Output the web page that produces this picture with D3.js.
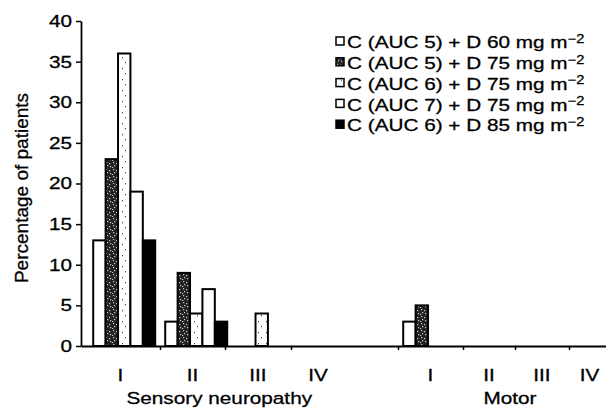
<!DOCTYPE html>
<html>
<head>
<meta charset="utf-8">
<script src="https://cdn.jsdelivr.net/npm/d3@7"></script>
<style>
  body { margin: 0; background: #fff; }
  svg { display: block; font-family: "Liberation Sans", Arial, sans-serif; }
  svg text { stroke: #000; stroke-width: 0.3px; fill: #000; }
</style>
</head>
<body>
<svg id="chart" width="606" height="414"></svg>
<script>
// categories along the x axis (blank slot separates the two groups)
const categories = ["I", "II", "III", "IV", "", "I", "II", "III", "IV"];
const groupNames = ["Sensory neuropathy", "Motor"];
const groupSlots = [[0, 3], [5, 8]];

const seriesNames = [
  "C (AUC 5) + D 60 mg m",
  "C (AUC 5) + D 75 mg m",
  "C (AUC 6) + D 75 mg m",
  "C (AUC 7) + D 75 mg m",
  "C (AUC 6) + D 85 mg m"
];
const seriesFills = ["url(#plain)", "url(#speckle)", "url(#stipple)", "url(#plain)", "#000"];

// percentage of patients per category
const d60_auc5 = [13, 3, 0, 0, 0, 3, 0, 0, 0];
const d75_auc5 = [23, 9, 0, 0, 0, 5, 0, 0, 0];
const d75_auc6 = [36, 4, 4, 0, 0, 0, 0, 0, 0];
const d75_auc7 = [19, 7, 0, 0, 0, 0, 0, 0, 0];
const d85_auc6 = [13, 3, 0, 0, 0, 0, 0, 0, 0];
const seriesValues = [d60_auc5, d75_auc5, d75_auc6, d75_auc7, d85_auc6];

const yTicks = d3.range(0, 41, 5);

const svg = d3.select("#chart");
const SX = 1.22;   // the scanned figure's lettering is stretched sideways

// scanned figure is unevenly spaced, so slot edges are calibrated piecewise
const xEdge = d3.scaleLinear()
  .domain(d3.range(categories.length + 1))
  .range([81, 160, 225, 291, 345, 398, 463, 515, 569, 610]);
const slotMid = i => (xEdge(i) + xEdge(i + 1)) / 2;
const y = d3.scaleLinear().domain([0, 40]).range([346, 21]);
const barW = 12.4;

// fill patterns
const defs = svg.append("defs");
defs.append("pattern").attr("id", "plain")
  .attr("patternUnits", "userSpaceOnUse").attr("width", 4).attr("height", 4)
  .append("rect").attr("width", 4).attr("height", 4).attr("fill", "#fff");

const speck = defs.append("pattern").attr("id", "speckle")
  .attr("patternUnits", "userSpaceOnUse").attr("width", 7).attr("height", 7);
speck.append("rect").attr("width", 7).attr("height", 7).attr("fill", "#222");
[[1, 1], [4, 2], [2, 4], [5, 5], [0, 6]].forEach(([px, py]) =>
  speck.append("rect").attr("x", px).attr("y", py).attr("width", 1.2).attr("height", 1.2).attr("fill", "#ccc"));

const stip = defs.append("pattern").attr("id", "stipple")
  .attr("patternUnits", "userSpaceOnUse").attr("width", 8).attr("height", 11);
stip.append("rect").attr("width", 8).attr("height", 11).attr("fill", "#fff");
[[2, 2], [5, 7]].forEach(([px, py]) =>
  stip.append("rect").attr("x", px).attr("y", py).attr("width", 1).attr("height", 1.3).attr("fill", "#444"));

// bars
const bars = [];
seriesValues.forEach((vals, s) => vals.forEach((v, i) => {
  if (v > 0) bars.push({ s, i, v });
}));

svg.append("g").selectAll("rect").data(bars).join("rect")
  .attr("x", d => slotMid(d.i) + (d.s - 2.2) * barW)
  .attr("y", d => y(d.v))
  .attr("width", barW)
  .attr("height", d => y(0) - y(d.v))
  .attr("fill", d => seriesFills[d.s])
  .attr("stroke", "#000")
  .attr("stroke-width", 2);

// y axis
const yAxis = svg.append("g")
  .attr("transform", `translate(${xEdge(0)},0)`)
  .call(d3.axisLeft(y).tickValues(yTicks).tickSize(5).tickSizeOuter(0).tickPadding(4));
yAxis.select(".domain").attr("stroke-width", 1.8);
yAxis.selectAll(".tick line").attr("stroke-width", 1.5);
yAxis.selectAll(".tick text")
  .attr("font-size", 17)
  .attr("font-family", "Liberation Sans, Arial, sans-serif")
  .attr("x", -9 / SX)
  .attr("transform", `scale(${SX},1)`);

// x axis line with ticks on slot edges
const tickEdges = [1, 2, 3, 5, 6, 7, 8];
const xAxis = svg.append("g")
  .attr("transform", `translate(0,${y(0)})`)
  .call(d3.axisBottom(xEdge).tickValues(tickEdges).tickSize(4).tickSizeOuter(0).tickFormat(""));
xAxis.select(".domain").attr("stroke-width", 2.2);
xAxis.selectAll(".tick line").attr("stroke-width", 1.5);

// helper for sideways-stretched horizontal text
const stretched = (sel, x, y0) => sel
  .attr("transform", (d, i) => `translate(${x(d, i)},${y0}) scale(${SX},1)`);

// category labels
svg.append("g").selectAll("text")
  .data(categories.map((c, i) => ({ c, i })).filter(d => d.c))
  .join("text")
  .call(stretched, d => slotMid(d.i), 381)
  .attr("text-anchor", "middle")
  .attr("font-size", 17)
  .text(d => d.c);

// group labels
svg.append("g").selectAll("text")
  .data(groupNames)
  .join("text")
  .call(stretched, (g, k) => (slotMid(groupSlots[k][0]) + slotMid(groupSlots[k][1])) / 2, 404)
  .attr("text-anchor", "middle")
  .attr("font-size", 17)
  .text(g => g);

// y axis title
svg.append("text")
  .attr("transform", "translate(28,188) rotate(-90)")
  .attr("text-anchor", "middle")
  .attr("font-size", 19)
  .text("Percentage of patients");

// legend
const legend = svg.append("g").attr("transform", "translate(336,42)");
const item = legend.selectAll("g").data(seriesNames).join("g")
  .attr("transform", (d, i) => `translate(0,${i * 20.8})`);
item.append("rect")
  .attr("x", 0).attr("y", -5).attr("width", 8).attr("height", 8)
  .attr("fill", (d, i) => seriesFills[i])
  .attr("stroke", "#000").attr("stroke-width", 1.5);
const lt = item.append("text")
  .attr("transform", `translate(11,0) scale(${SX},1)`)
  .attr("dy", "0.36em")
  .attr("font-size", 17);
lt.append("tspan").text(d => d);
lt.append("tspan").attr("dy", "-0.45em").attr("font-size", 12).text("\u22122");
</script>
</body>
</html>
